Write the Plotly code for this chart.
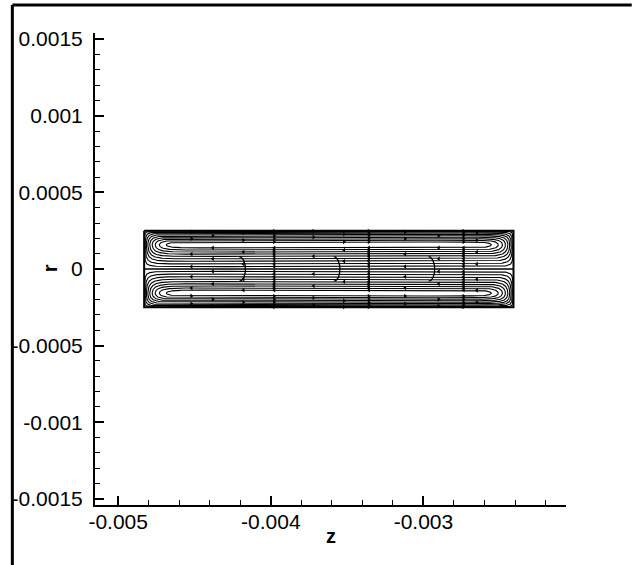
import numpy as np
import plotly.graph_objects as go

# ---- channel geometry (m) ----
z_left, z_right = -0.00483, -0.00241
r_wall = 0.00025

# stream-function levels traced in each half of the channel
psi_levels = [0.05, 0.15, 0.28, 0.42, 0.56, 0.69, 0.80, 0.89, 0.96]
end_layer = 0.000045      # thickness of the end-wall turning region
core_exp = 1.5            # pushes the vortex core towards the outer wall

# axial stations carrying direction arrows
arrow_z_main = [-0.003978, -0.003358, -0.002737]
arrow_z_side = [-0.00452, -0.00438, -0.00418, -0.00372, -0.00352,
                -0.00312, -0.00290, -0.00265]
# short streamlines crossing the axis
cross_z = [-0.004206, -0.003587, -0.002966]
cross_half_height = 0.00008
cross_bulge = 0.00004

# axis ticks
x_ticks = [-0.005, -0.004, -0.003]
x_labels = ["-0.005", "-0.004", "-0.003"]
y_ticks = [0.0015, 0.001, 0.0005, 0, -0.0005, -0.001, -0.0015]
y_labels = ["0.0015", "0.001", "0.0005", "0", "-0.0005", "-0.001", "-0.0015"]

x_range = [-0.005152, -0.002066]
y_range = [-0.00154, 0.00154]

FONT = "Liberation Sans, Arial, sans-serif"


def axial_profile(z):
    return (1.0 - np.exp(-(z - z_left) / end_layer)
            - np.exp(-(z_right - z) / end_layer))


def radial_from_q(q):
    # inner (near axis) and outer (near wall) branch of sin(pi*s**a) = v
    return q ** (1.0 / core_exp), (1.0 - q) ** (1.0 / core_exp)


def stream_loop(level):
    zf = np.linspace(z_left, z_right, 40001)
    inside = zf[axial_profile(zf) >= level]
    z0, z1 = inside[0], inside[-1]
    th = np.linspace(0.0, np.pi, 500)
    z = z0 + (z1 - z0) * (1.0 - np.cos(th)) / 2.0
    v = np.clip(level / np.maximum(axial_profile(z), 1e-12), 0.0, 1.0)
    q = np.arcsin(v) / np.pi
    s_in, s_out = radial_from_q(q)
    zz = np.concatenate([z, z[::-1], z[:1]])
    ss = np.concatenate([s_in, s_out[::-1], s_in[:1]])
    return zz, ss


def branch_at(level, z):
    g = axial_profile(np.asarray(z, dtype=float))
    v = np.clip(level / g, 0.0, 1.0)
    q = np.arcsin(v) / np.pi
    return radial_from_q(q)


fig = go.Figure()

# streamlines in the upper and lower halves
for lev in psi_levels:
    zz, ss = stream_loop(lev)
    for sign in (1, -1):
        fig.add_trace(go.Scatter(
            x=zz, y=sign * ss * r_wall, mode="lines",
            line=dict(color="black", width=1.1), hoverinfo="skip",
            showlegend=False))

# short streamlines crossing the axis
t = np.linspace(-np.pi / 2, np.pi / 2, 60)
for zc in cross_z:
    fig.add_trace(go.Scatter(
        x=zc + cross_bulge * np.cos(t), y=cross_half_height * np.sin(t),
        mode="lines", line=dict(color="black", width=1.3),
        hoverinfo="skip", showlegend=False))

# direction arrows placed on the streamlines
ax_r, ax_l, ar_z, al_z = [], [], [], []


def add_arrow(zs, lev, which, sign):
    s_in, s_out = branch_at(lev, zs)
    if which == "in":
        al_z.append(zs); ax_l.append(sign * s_in * r_wall)
    else:
        ar_z.append(zs); ax_r.append(sign * s_out * r_wall)


for zs in arrow_z_main:
    for i, lev in enumerate(psi_levels):
        for sign in (1, -1):
            add_arrow(zs, lev, "in", sign)
            if i % 2 == 0:
                add_arrow(zs, lev, "out", sign)

# scattered arrows: each line gets a few, staggered along z
for i, lev in enumerate(psi_levels):
    for k, zs in enumerate(arrow_z_side):
        for j, (which, sign) in enumerate((("in", 1), ("out", 1),
                                           ("in", -1), ("out", -1))):
            if (i * 3 + k + j * 2) % 5 == 0 and axial_profile(zs) >= lev:
                add_arrow(zs, lev, which, sign)

fig.add_trace(go.Scatter(x=ar_z, y=ax_r, mode="markers",
                         marker=dict(symbol="triangle-right", size=4,
                                     color="black"),
                         hoverinfo="skip", showlegend=False))
fig.add_trace(go.Scatter(x=al_z, y=ax_l, mode="markers",
                         marker=dict(symbol="triangle-left", size=4,
                                     color="black"),
                         hoverinfo="skip", showlegend=False))

# channel walls and the symmetry axis
fig.add_trace(go.Scatter(
    x=[z_left, z_right, z_right, z_left, z_left],
    y=[r_wall, r_wall, -r_wall, -r_wall, r_wall],
    mode="lines", line=dict(color="black", width=2),
    hoverinfo="skip", showlegend=False))
fig.add_trace(go.Scatter(
    x=[z_left, z_right], y=[0, 0], mode="lines",
    line=dict(color="black", width=1.5), hoverinfo="skip", showlegend=False))

W, H = 632, 565
ml, mr, mt, mb = 93, 66, 33, 60
pw, ph = W - ml - mr, H - mt - mb


def px_to_paper(px, py):
    return (px - ml) / pw, (H - mb - py) / ph


axis_common = dict(
    showgrid=False, zeroline=False, showline=True, linecolor="black",
    linewidth=2, ticks="inside", tickcolor="black", tickwidth=1.5,
    ticklen=9, tickfont=dict(family=FONT, size=21, color="black"),
    mirror=False,
)

fig.update_layout(
    width=W, height=H,
    margin=dict(l=ml, r=mr, t=mt, b=mb, pad=0),
    paper_bgcolor="white", plot_bgcolor="white",
    xaxis=dict(range=x_range, tickmode="array", tickvals=x_ticks,
               ticktext=x_labels, ticklabelstandoff=-3,
               minor=dict(ticks="inside", ticklen=5, tickwidth=1,
                          tickcolor="black", dtick=0.0002, tick0=-0.005),
               **axis_common),
    yaxis=dict(range=y_range, tickmode="array", tickvals=y_ticks,
               ticktext=y_labels, ticklabelstandoff=6,
               minor=dict(ticks="inside", ticklen=5, tickwidth=1,
                          tickcolor="black", dtick=0.0001, tick0=0),
               **axis_common),
    showlegend=False,
)

# axis titles
zx, zy = px_to_paper(330, 536)
fig.add_annotation(text="<b>z</b>", xref="paper", yref="paper", x=zx, y=zy,
                   xanchor="center", yanchor="middle", showarrow=False,
                   font=dict(family=FONT, size=20, color="black"))
rx, ry = px_to_paper(48, 268)
fig.add_annotation(text="<b>r</b>", xref="paper", yref="paper", x=rx, y=ry,
                   xanchor="center", yanchor="middle", showarrow=False,
                   textangle=-90,
                   font=dict(family=FONT, size=20, color="black"))

# outer frame (left and top edges)
fx0, fy0 = px_to_paper(10, 565)
fx1, fy1 = px_to_paper(632, 5)
fig.add_shape(type="line", xref="paper", yref="paper", x0=fx0, x1=fx0,
              y0=fy0, y1=fy1, line=dict(color="black", width=3), layer="above")
fig.add_shape(type="line", xref="paper", yref="paper", x0=fx0, x1=fx1,
              y0=fy1, y1=fy1, line=dict(color="black", width=3), layer="above")

fig.write_html("out.html")
